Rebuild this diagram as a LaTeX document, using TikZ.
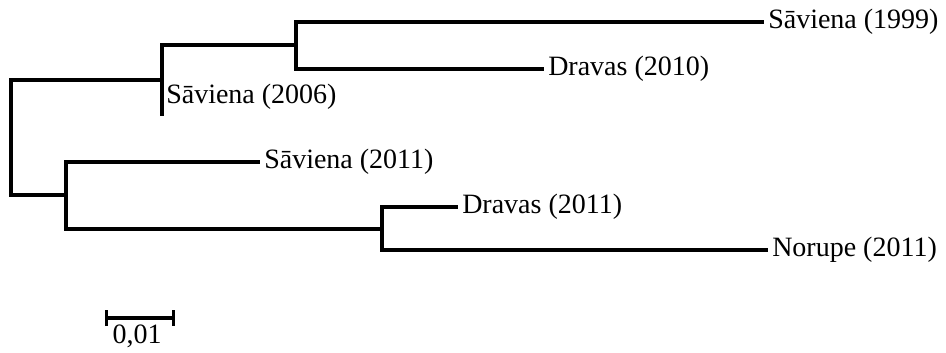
\documentclass[tikz,border=0pt]{standalone}
\usepackage{fontspec}
\setmainfont{Liberation Serif}
\usetikzlibrary{arrows.meta}

\begin{document}
\begin{tikzpicture}[
    x=0.75pt, y=-0.75pt,
    branch/.style={line width=2.6pt},
    taxon/.style={anchor=west, inner xsep=3pt, inner ysep=0pt, font=\fontsize{21}{25}\selectfont}
]
    \useasboundingbox (0,0) rectangle (946,353);

    \coordinate (root) at (11,137);
    \coordinate (nA) at (162,80);
    \coordinate (nB) at (296,45);
    \coordinate (nC) at (66,195);
    \coordinate (nD) at (382,229);
    \coordinate (e2006) at (162,116);

    \node[taxon] (s1999) at (764,22) {Sāviena (1999)};
    \node[taxon] (d2010) at (544,69) {Dravas (2010)};
    \node[taxon] (s2006) at (162,97) {Sāviena (2006)};
    \node[taxon] (s2011) at (260,162) {Sāviena (2011)};
    \node[taxon] (d2011) at (458,207) {Dravas (2011)};
    \node[taxon] (n2011) at (768,250) {Norupe (2011)};

    \draw[branch] (root) |- (nA);
    \draw[branch] (root) |- (nC);
    \draw[branch] (nA) |- (nB);
    \draw[branch] (nA) -- (e2006);
    \draw[branch] (nB) |- (s1999.west);
    \draw[branch] (nB) |- (d2010.west);
    \draw[branch] (nC) |- (s2011.west);
    \draw[branch] (nC) |- (nD);
    \draw[branch] (nD) |- (d2011.west);
    \draw[branch] (nD) |- (n2011.west);

    \coordinate (sb1) at (105,318);
    \coordinate (sb2) at (175,318);
    \draw[branch, {Bar[width=12pt]}-{Bar[width=12pt]}] (sb1) -- (sb2);
    \node[taxon, anchor=north] (sblabel) at (137,325) {0,01};
\end{tikzpicture}
\end{document}
